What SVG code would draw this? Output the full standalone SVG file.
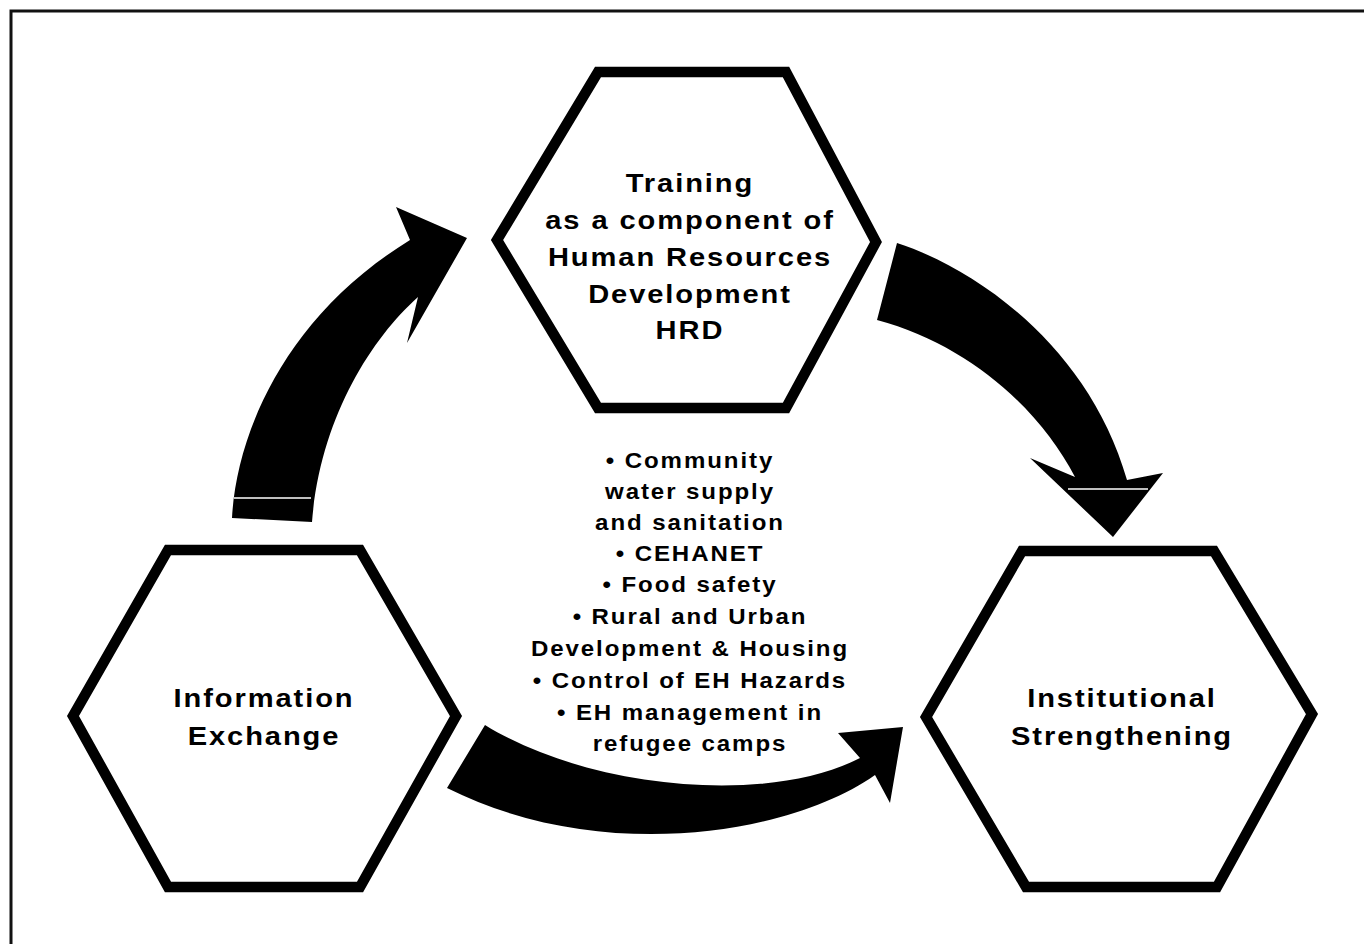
<svg xmlns="http://www.w3.org/2000/svg" width="1364" height="944" viewBox="0 0 1364 944">
<style>
.hex{fill:#fff;stroke:#000;stroke-width:10.5;stroke-linejoin:miter}
.lbl{font-family:"Liberation Sans",Arial,Helvetica,sans-serif;font-weight:bold;font-size:26px;letter-spacing:1.7px;fill:#000;text-anchor:middle}
.mid{font-family:"Liberation Sans",Arial,Helvetica,sans-serif;font-weight:bold;font-size:21.5px;letter-spacing:1.7px;fill:#000;text-anchor:middle}
.arrow{fill:#000;stroke:none}
.scan{stroke:#fff;stroke-width:1.5}
</style>
<rect width="1364" height="944" fill="#fff"/>
<g id="frame" fill="none" stroke="#111" stroke-width="3">
<path d="M11,944 L11,11 L1364,11"/>
</g>
<g id="connectors">
<path class="arrow" d="M232,518 C236,440 280,320 410,240 L396,207 L467,238 L407,343 L418,297 C370,340 320,420 312,522 Z"/>
<line class="scan" x1="234" y1="498" x2="311" y2="498"/>
<path class="arrow" d="M897,243 C980,270 1090,350 1127,480 L1163,473 L1113,537 L1030,458 L1075,477 C1040,410 970,345 877,320 Z"/>
<line class="scan" x1="1068" y1="489" x2="1148" y2="489"/>
<path class="arrow" d="M485,725 C590,790 770,805 860,758 L838,733 L903,727 L890,803 L875,775 C790,835 600,865 447,788 Z"/>
</g>
<g id="node-training">
<polygon class="hex" points="598,72 786,72 876,242 786,408 598,408 497,240"/>
<g transform="translate(690,0) scale(1.12,1)">
<text class="lbl" x="0" y="192">Training</text>
<text class="lbl" x="0" y="229">as a component of</text>
<text class="lbl" x="0" y="266">Human Resources</text>
<text class="lbl" x="0" y="303">Development</text>
<text class="lbl" x="0" y="339">HRD</text>
</g>
</g>
<g id="node-information">
<polygon class="hex" points="168,550 360,550 456,716 360,887 168,887 73,716"/>
<g transform="translate(264,0) scale(1.12,1)">
<text class="lbl" x="0" y="707">Information</text>
<text class="lbl" x="0" y="745">Exchange</text>
</g>
</g>
<g id="node-institutional">
<polygon class="hex" points="1022,551 1214,551 1312,714 1217,887 1026,887 926,717"/>
<g transform="translate(1122,0) scale(1.12,1)">
<text class="lbl" x="0" y="707">Institutional</text>
<text class="lbl" x="0" y="745">Strengthening</text>
</g>
</g>
<g id="topics">
<g transform="translate(690,0) scale(1.12,1)">
<text class="mid" x="0" y="468">• Community</text>
<text class="mid" x="0" y="499">water supply</text>
<text class="mid" x="0" y="530">and sanitation</text>
<text class="mid" x="0" y="561">• CEHANET</text>
<text class="mid" x="0" y="592">• Food safety</text>
<text class="mid" x="0" y="624">• Rural and Urban</text>
<text class="mid" x="0" y="656">Development &amp; Housing</text>
<text class="mid" x="0" y="688">• Control of EH Hazards</text>
<text class="mid" x="0" y="720">• EH management in</text>
<text class="mid" x="0" y="751">refugee camps</text>
</g>
</g>
</svg>
